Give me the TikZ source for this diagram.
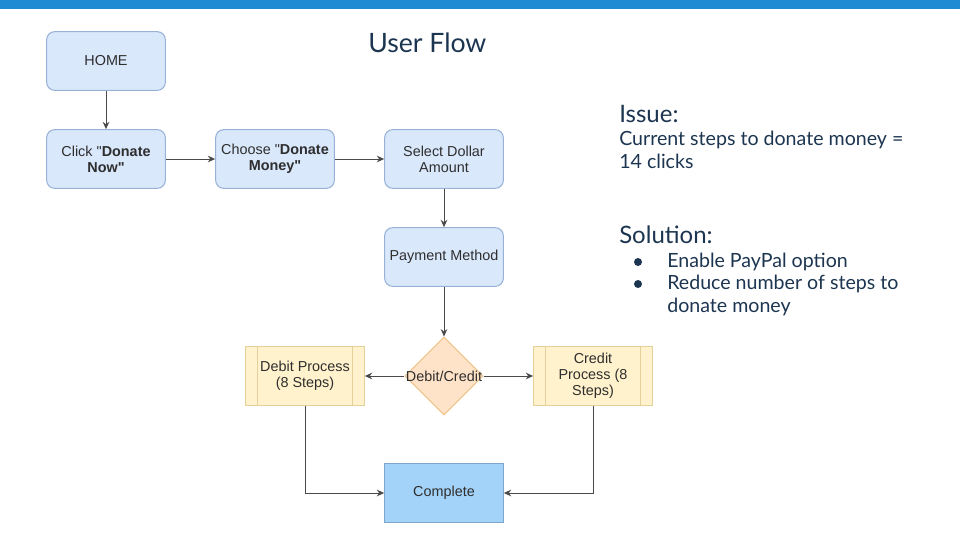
\documentclass[tikz,border=0pt]{standalone}
\usepackage{fontspec}
\setmainfont{Lato}
\newfontfamily\helv{Liberation Sans}
\usetikzlibrary{shapes.geometric,arrows.meta}
\definecolor{barblue}{HTML}{1E8BD2}
\definecolor{navy}{HTML}{1C3550}
\definecolor{bfill}{HTML}{DAE8FC}
\definecolor{bdraw}{HTML}{98B2D6}
\definecolor{yfill}{HTML}{FFF2CC}
\definecolor{ydraw}{HTML}{E3D09A}
\definecolor{ofill}{HTML}{FFE3C8}
\definecolor{odraw}{HTML}{EEC48C}
\definecolor{cfill}{HTML}{A3D3F8}
\definecolor{cdraw}{HTML}{7DA6CC}
\definecolor{tgray}{HTML}{2E2E2E}
\definecolor{lgray}{HTML}{4A4A4A}
\begin{document}
\begin{tikzpicture}[x=0.75pt,y=-0.75pt,
  nodefont/.style={font=\helv\fontsize{10.8}{12}\selectfont, text=tgray},
  bluebox/.style={nodefont, draw=bdraw, fill=bfill, rounded corners=6pt, line width=0.8pt,
    minimum width=89pt, minimum height=44pt, inner sep=0pt, align=center},
  procbox/.style={nodefont, draw=ydraw, fill=yfill, line width=0.8pt,
    minimum width=89pt, minimum height=44pt, inner sep=0pt, align=center,
    path picture={\draw[ydraw, line width=0.8pt]
      ([xshift=9pt]path picture bounding box.north west) -- ([xshift=9pt]path picture bounding box.south west)
      ([xshift=-9pt]path picture bounding box.north east) -- ([xshift=-9pt]path picture bounding box.south east);}},
  decbox/.style={draw=odraw, fill=ofill, line width=0.8pt, diamond, minimum width=58.5pt,
    minimum height=58.5pt, inner sep=0pt},
  donebox/.style={nodefont, draw=cdraw, fill=cfill, line width=0.8pt,
    minimum width=89pt, minimum height=44pt, inner sep=0pt, align=center},
  arr/.style={draw=lgray, line width=0.75pt, -{Stealth[length=5.5pt,width=5pt]}},
  side/.style={anchor=base west, text=navy, inner sep=0pt},
  bodytext/.style={side, font=\fontsize{14.7}{17}\selectfont},
  headtext/.style={side, font=\fontsize{18}{21}\selectfont}
]
\useasboundingbox (0,0) rectangle (960,540);
\fill[barblue] (0,0) rectangle (960,9);

\node[anchor=base west, text=navy, inner sep=0pt, font=\fontsize{20}{24}\selectfont] (title) at (368,52) {User Flow};

\node[bluebox] (home) at (106,61) {HOME};
\node[bluebox] (click) at (106,159) {Click "\textbf{Donate}\\\textbf{Now"}};
\node[bluebox] (choose) at (275,159) {Choose "\textbf{Donate}\\\textbf{Money"}};
\node[bluebox] (select) at (444,159) {Select Dollar\\Amount};
\node[bluebox] (pay) at (444,257) {Payment Method};
\node[decbox, label={[nodefont, inner sep=0pt]center:Debit/Credit}] (dc) at (444,376) {};
\node[procbox] (debit) at (305,376) {Debit Process\\(8 Steps)};
\node[procbox] (credit) at (593,376) {Credit\\Process (8\\Steps)};
\node[donebox] (complete) at (444,493) {Complete};

\draw[arr] (home) -- (click);
\draw[arr] (click) -- (choose);
\draw[arr] (choose) -- (select);
\draw[arr] (select) -- (pay);
\draw[arr] (pay) -- (dc);
\draw[arr] (dc) -- (debit);
\draw[arr] (dc) -- (credit);
\draw[arr] (debit) |- (complete);
\draw[arr] (credit) |- (complete);

\node[headtext] (issue) at (619,122) {Issue:};
\node[bodytext] (cur1) at (619,145) {Current steps to donate money =};
\node[bodytext] (cur2) at (619,168) {14 clicks};
\node[headtext] (sol) at (619,243) {Solution:};
\fill[navy] (638,262) circle (3pt);
\fill[navy] (638,284) circle (3pt);
\node[bodytext] (b1) at (667,267) {Enable PayPal option};
\node[bodytext] (b2) at (667,289) {Reduce number of steps to};
\node[bodytext] (b3) at (667,312) {donate money};
\end{tikzpicture}
\end{document}
